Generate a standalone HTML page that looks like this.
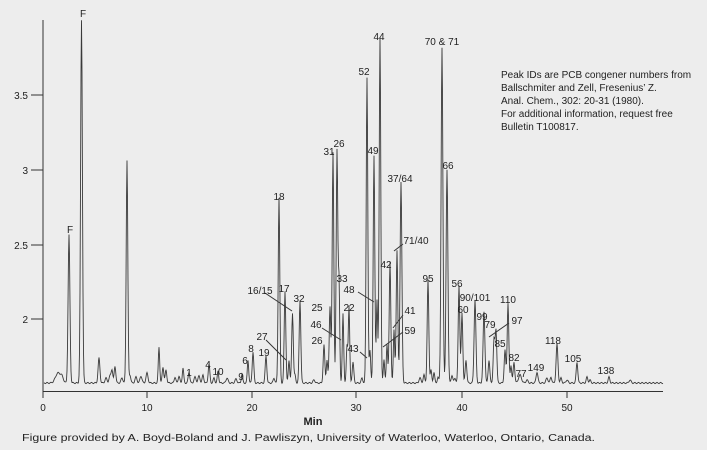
<!DOCTYPE html>
<html><head><meta charset="utf-8"><style>
html,body{margin:0;padding:0;background:#ededed;}
svg{display:block;font-family:"Liberation Sans",sans-serif;}
text{fill:#222;font-size:10px;}
</style></head><body>
<svg id="s" width="707" height="450" viewBox="0 0 707 450" xmlns="http://www.w3.org/2000/svg">
<rect width="707" height="450" fill="#ededed"/>
<g stroke="#333" stroke-width="1" fill="none">
<line x1="43" y1="20" x2="43" y2="391.5"/>
<line x1="43" y1="391.5" x2="663" y2="391.5"/>
<line x1="31" y1="95" x2="43" y2="95"/><line x1="31" y1="170" x2="43" y2="170"/>
<line x1="31" y1="245" x2="43" y2="245"/><line x1="31" y1="319" x2="43" y2="319"/>
<line x1="43" y1="391" x2="43" y2="398"/><line x1="147" y1="391" x2="147" y2="398"/>
<line x1="252" y1="391" x2="252" y2="398"/><line x1="356" y1="391" x2="356" y2="398"/>
<line x1="462" y1="391" x2="462" y2="398"/><line x1="567" y1="391" x2="567" y2="398"/>
<line x1="266" y1="340" x2="286" y2="360"/><line x1="265" y1="293" x2="292" y2="311"/>
<line x1="322" y1="328" x2="341" y2="340"/><line x1="358" y1="292" x2="374" y2="302"/>
<line x1="360" y1="352" x2="367" y2="358"/><line x1="403" y1="244" x2="394" y2="251"/>
<line x1="403" y1="315" x2="393" y2="328"/><line x1="403" y1="332" x2="383" y2="347"/>
<line x1="489" y1="337" x2="509" y2="323"/>
<path id="p" stroke="#3a3a3a" stroke-width="0.9"/>
</g>
<g text-anchor="end">
<text x="28" y="99">3.5</text><text x="28" y="174">3</text><text x="28" y="249">2.5</text><text x="28" y="323">2</text>
</g>
<g text-anchor="middle">
<text x="43" y="411">0</text><text x="147" y="411">10</text><text x="252" y="411">20</text><text x="356" y="411">30</text><text x="462" y="411">40</text><text x="567" y="411">50</text>
<text x="313" y="425" style="font-weight:bold;font-size:11px">Min</text>
<text x="70" y="233">F</text><text x="83" y="17">F</text>
<text x="189" y="376">1</text><text x="208" y="368">4</text><text x="218" y="375">10</text><text x="241" y="380">9</text>
<text x="245" y="364">6</text><text x="251" y="352">8</text><text x="264" y="356">19</text><text x="262" y="340">27</text>
<text x="279" y="200">18</text><text x="284" y="292">17</text><text x="260" y="294">16/15</text><text x="299" y="302">32</text>
<text x="317" y="311">25</text><text x="317" y="344">26</text><text x="316" y="328">46</text><text x="342" y="282">33</text>
<text x="349" y="311">22</text><text x="349" y="293">48</text><text x="353" y="352">43</text><text x="386" y="268">42</text>
<text x="416" y="244">71/40</text><text x="410" y="314">41</text><text x="410" y="334">59</text>
<text x="329" y="155">31</text><text x="339" y="147">26</text><text x="364" y="75">52</text><text x="373" y="154">49</text>
<text x="379" y="40">44</text><text x="400" y="182">37/64</text><text x="442" y="45">70 &amp; 71</text><text x="448" y="169">66</text>
<text x="428" y="282">95</text><text x="457" y="287">56</text><text x="463" y="313">60</text><text x="475" y="301">90/101</text>
<text x="482" y="320">99</text><text x="490" y="328">79</text><text x="500" y="347">85</text><text x="517" y="324">97</text>
<text x="508" y="303">110</text><text x="514" y="361">82</text><text x="521" y="377">77</text><text x="536" y="371">149</text>
<text x="553" y="344">118</text><text x="573" y="362">105</text><text x="606" y="374">138</text>
</g>
<g style="font-size:10px">
<text x="501" y="78">Peak IDs are PCB congener numbers from</text>
<text x="501" y="91">Ballschmiter and Zell, Fresenius’ Z.</text>
<text x="501" y="104">Anal. Chem., 302: 20-31 (1980).</text>
<text x="501" y="117">For additional information, request free</text>
<text x="501" y="130">Bulletin T100817.</text>
</g>
<text x="22" y="441" textLength="573" lengthAdjust="spacingAndGlyphs" style="font-size:10px">Figure provided by A. Boyd-Boland and J. Pawliszyn, University of Waterloo, Waterloo, Ontario, Canada.</text>
</svg>
<script>
var B=383;
var P=[[58,373,2.5],[62,378,1.5],[69,235,0.9],[81.5,20,0.9],[99,358,0.9],[106,378,1],[110,376,1],[112,370,0.8],[115,366,0.8],[122,378,1],[127,160,0.8],[130,375,0.8],[136,377,1],[141,376,1],[147,373,1],[159,347,0.7],[163,367,0.8],[166,370,0.8],[175,377,0.8],[179,376,0.8],[183,368,0.7],[189,372,0.8],[195,377,1],[199,376,1],[203,375,0.8],[209,364,0.8],[214,378,0.8],[218,371,0.7],[227,378,1],[236,379,1],[242,374,0.7],[248,360,0.7],[253,352,0.8],[266,356,0.8],[274,378,0.8],[279,198,0.8],[285,291,0.8],[289,360,0.7],[292.5,313,0.8],[295,375,0.7],[300,300,0.8],[314,380,1],[324,345,0.8],[327,360,0.7],[330,306,0.8],[333,152,0.8],[337,150,0.8],[339,283,0.7],[343,314,0.7],[347,346,0.7],[349,306,0.7],[353,362,0.8],[362,378,0.8],[367,77,0.8],[370,350,0.7],[374,155,0.8],[377,300,0.7],[380,38,0.8],[384,360,0.7],[387,345,0.7],[390,262,0.8],[394,330,0.7],[397,250,0.8],[401,182,0.9],[420,378,1],[424,375,0.8],[428,280,0.8],[431,370,0.7],[434,372,0.7],[438,377,0.7],[442,48,0.9],[447,170,0.9],[452,375,0.8],[455,378,0.8],[459,285,0.8],[462,313,0.8],[466,360,0.8],[475,300,0.9],[484,312,0.9],[489,360,0.8],[494,340,0.8],[496,330,0.8],[505,350,0.8],[508,303,0.8],[511,365,0.7],[514,362,0.8],[520,375,1.5],[527,380,1],[537,372,0.9],[547,378,1],[551,377,0.8],[557,344,0.9],[561,378,0.8],[567,380,1],[577,362,0.8],[587,377,0.8],[590,380,0.8],[609,377,0.8],[630,380,1]];
var d="";
for(var x=44;x<=663;x+=0.5){
 var y=B+Math.sin(x*1.7)*0.6;
 for(var i=0;i<P.length;i++){var p=P[i];var u=(x-p[0])/p[2];if(Math.abs(u)<6)y-= (B-p[1])*Math.exp(-u*u/2);}
 d+=(d?"L":"M")+x.toFixed(1)+" "+y.toFixed(1);
}
document.getElementById("p").setAttribute("d",d);
</script>
</body></html>
